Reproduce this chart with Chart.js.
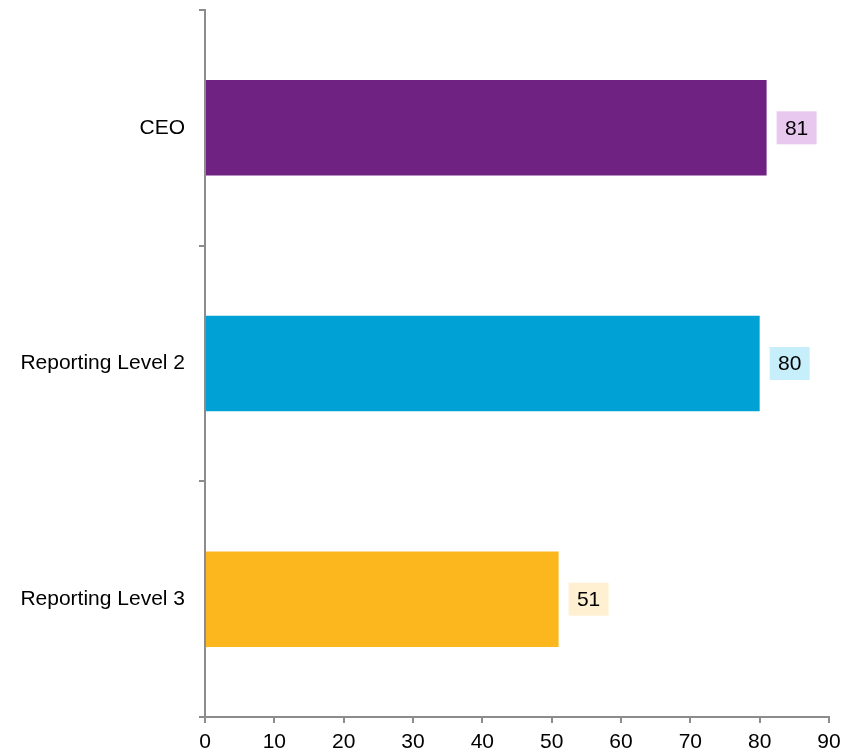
<!DOCTYPE html>
<html>
<head>
<meta charset="utf-8">
<script src="https://cdn.jsdelivr.net/npm/chart.js@4/dist/chart.umd.min.js"></script>
<style>
html,body{margin:0;padding:0;background:#fff;}
#wrap{width:860px;height:753px;position:relative;}
</style>
</head>
<body>
<div id="wrap"><canvas id="c" width="860" height="753"></canvas></div>
<script>
const categories = ["CEO", "Reporting Level 2", "Reporting Level 3"];
const values = [81, 80, 51];
const barColors = ["#6F2281", "#00A1D4", "#FDB71E"];
const labelBgColors = ["#E8C8EE", "#C6EEFB", "#FFF0D2"];
const xTicks = [0, 10, 20, 30, 40, 50, 60, 70, 80, 90];

const FONT = "'Liberation Sans', Arial, sans-serif";

const dataLabelPlugin = {
  id: 'dataLabelBoxes',
  afterDatasetsDraw(chart) {
    const ctx = chart.ctx;
    const meta = chart.getDatasetMeta(0);
    ctx.save();
    ctx.font = "21px " + FONT;
    ctx.textBaseline = 'middle';
    ctx.textAlign = 'center';
    meta.data.forEach((bar, i) => {
      const txt = String(values[i]);
      const w = 40, h = 33;
      const x0 = bar.x + 10;
      const y0 = bar.y - h / 2;
      ctx.fillStyle = labelBgColors[i];
      ctx.fillRect(x0, y0, w, h);
      ctx.fillStyle = '#000';
      ctx.fillText(txt, x0 + w / 2, bar.y + 1);
    });
    ctx.restore();
  }
};

new Chart(document.getElementById('c'), {
  type: 'bar',
  data: {
    labels: categories,
    datasets: [{
      data: values,
      backgroundColor: barColors,
      borderWidth: 0,
      barPercentage: 0.81,
      categoryPercentage: 0.5
    }]
  },
  options: {
    indexAxis: 'y',
    responsive: false,
    animation: false,
    devicePixelRatio: 1,
    layout: { padding: { top: 10, right: 31, left: 0, bottom: 0 } },
    plugins: { legend: { display: false }, tooltip: { enabled: false } },
    scales: {
      x: {
        min: 0, max: 90,
        afterBuildTicks(scale) { scale.ticks = xTicks.map(v => ({ value: v })); },
        afterFit(scale) { scale.height = 36; scale.paddingLeft = 0; scale.paddingRight = 0; },
        grid: { drawOnChartArea: false, drawTicks: true, tickLength: 6, color: '#8c8c8c', lineWidth: 2 },
        border: { color: '#8c8c8c', width: 2 },
        ticks: { color: '#000', font: { family: FONT, size: 21 }, padding: 7, maxRotation: 0 }
      },
      y: {
        afterFit(scale) { scale.width = 205; scale.paddingTop = 0; scale.paddingBottom = 0; },
        grid: { drawOnChartArea: false, drawTicks: true, tickLength: 6, color: '#8c8c8c', lineWidth: 2, offset: true },
        border: { color: '#8c8c8c', width: 2 },
        ticks: { color: '#000', font: { family: FONT, size: 21 }, padding: 14 }
      }
    }
  },
  plugins: [dataLabelPlugin]
});
</script>
</body>
</html>
